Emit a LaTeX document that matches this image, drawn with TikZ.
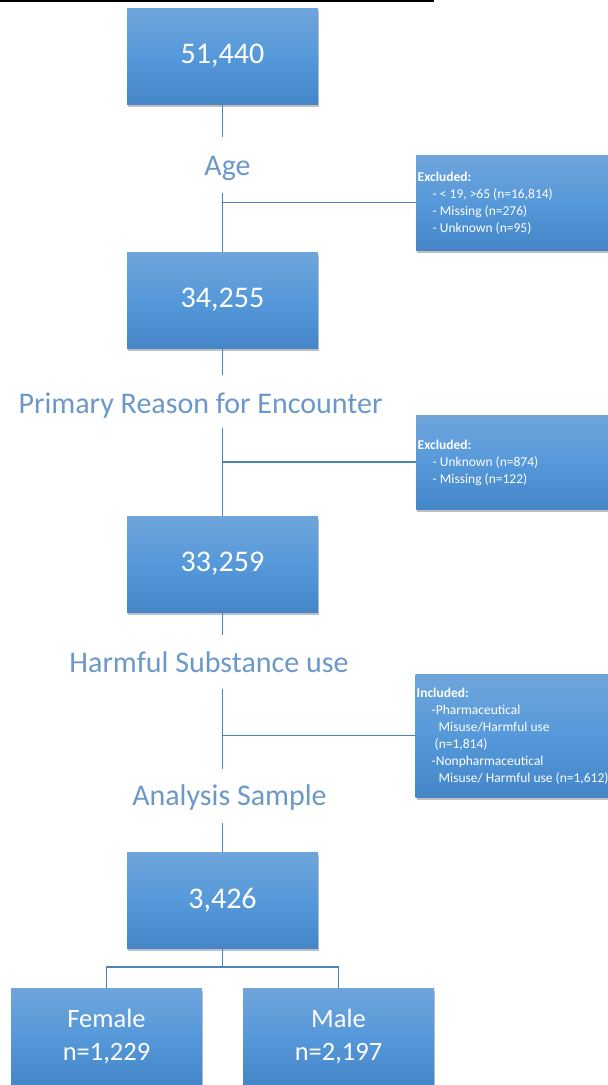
\documentclass[tikz,border=0pt]{standalone}
\usepackage{fontspec}
\setmainfont{Carlito}
\usetikzlibrary{shadows}
\definecolor{boxtop}{HTML}{6FA5DB}
\definecolor{boxmid}{HTML}{5699DA}
\definecolor{boxbot}{HTML}{4486C7}
\definecolor{lbl}{HTML}{6C98C9}
\definecolor{connc}{HTML}{4F81BD}
\tikzset{
 bluebox/.style={rectangle, top color=boxtop, bottom color=boxbot, middle color=boxmid, draw=none,
   minimum width=191pt, minimum height=96pt, text=white, align=center, inner sep=0pt,
   drop shadow={shadow xshift=1pt, shadow yshift=-2.5pt, opacity=0.25, fill=black}},
 bigtxt/.style={font=\fontsize{30}{36}\selectfont},
 gendertxt/.style={font=\fontsize{26.5}{33}\selectfont},
 sidebox/.style={bluebox, minimum width=196pt},
 lab/.style={text=lbl, font=\fontsize{30}{36}\selectfont, anchor=base, inner sep=0pt},
 connline/.style={draw=connc, line width=1.3pt},
 sidetxt/.style={text=white, font=\fontsize{13.5}{17}\selectfont, anchor=west, align=left, inner sep=0pt},
}
\begin{document}
\begin{tikzpicture}[x=1pt,y=-1pt]
\useasboundingbox (0,0) rectangle (608,1085);
\clip (0,0) rectangle (608,1085);
% cropped title underline
\coordinate (tl) at (0,1);
\coordinate (tr) at (434,1);
\draw[line width=2pt] (tl) -- (tr);

% main boxes
\node[bluebox, bigtxt] (b1) at (222.5,56) {51,440};
\node[bluebox, bigtxt] (b2) at (222.5,300) {34,255};
\node[bluebox, bigtxt] (b3) at (222.5,564) {33,259};
\node[bluebox, bigtxt] (b4) at (222.5,900) {3,426};
\node[bluebox, gendertxt] (fem) at (106.5,1036) {Female\\n=1,229};
\node[bluebox, gendertxt] (mal) at (338.5,1036) {Male\\n=2,197};

% labels
\node[lab] (age) at (227.5,175) {Age};
\node[lab] (prim) at (200.5,413) {Primary Reason for Encounter};
\node[lab] (harm) at (209,672) {Harmful Substance use};
\node[lab] (anal) at (229.5,805) {Analysis Sample};

% side boxes
\node[sidebox, minimum height=95pt] (ex1) at (514,202.5) {};
\node[sidetxt] (ex1t) at (417.5,203.5) {\textbf{Excluded:}\\
\hspace*{15pt}- < 19, >65 (n=16,814)\\
\hspace*{15pt}- Missing (n=276)\\
\hspace*{15pt}- Unknown (n=95)};
\node[sidebox, minimum height=94pt] (ex2) at (514,462) {};
\node[sidetxt] (ex2t) at (417.5,463) {\textbf{Excluded:}\\
\hspace*{15pt}- Unknown (n=874)\\
\hspace*{15pt}- Missing (n=122)};
\node[sidebox, minimum height=123pt] (inc) at (513.5,735.5) {};
\node[sidetxt] (inct) at (416.5,736) {\textbf{Included:}\\
\hspace*{15pt}-Pharmaceutical\\
\hspace*{22pt}Misuse/Harmful use\\
\hspace*{18pt}(n=1,814)\\
\hspace*{15pt}-Nonpharmaceutical\\
\hspace*{22pt}Misuse/ Harmful use (n=1,612)};

% connector end points
\coordinate (c1a) at (222.5,137);
\coordinate (c1b) at (222.5,193);
\coordinate (c2a) at (222.5,375);
\coordinate (c2b) at (222.5,428);
\coordinate (c3a) at (222.5,635);
\coordinate (c3b) at (222.5,689);
\coordinate (c3c) at (222.5,769);
\coordinate (c4) at (222.5,823);
\coordinate (split) at (222.5,967);

\draw[connline] (b1.south) -- (c1a);
\draw[connline] (c1b) -- (b2.north);
\draw[connline] (c1b |- ex1.west) -- (ex1.west);
\draw[connline] (b2.south) -- (c2a);
\draw[connline] (c2b) -- (b3.north);
\draw[connline] (c2b |- ex2.west) -- (ex2.west);
\draw[connline] (b3.south) -- (c3a);
\draw[connline] (c3b) -- (c3c);
\draw[connline] (c3b |- inc.west) -- (inc.west);
\draw[connline] (c4) -- (b4.north);
\draw[connline] (b4.south) -- (split);
\draw[connline] (fem.north) |- (split) -| (mal.north);
\end{tikzpicture}
\end{document}
